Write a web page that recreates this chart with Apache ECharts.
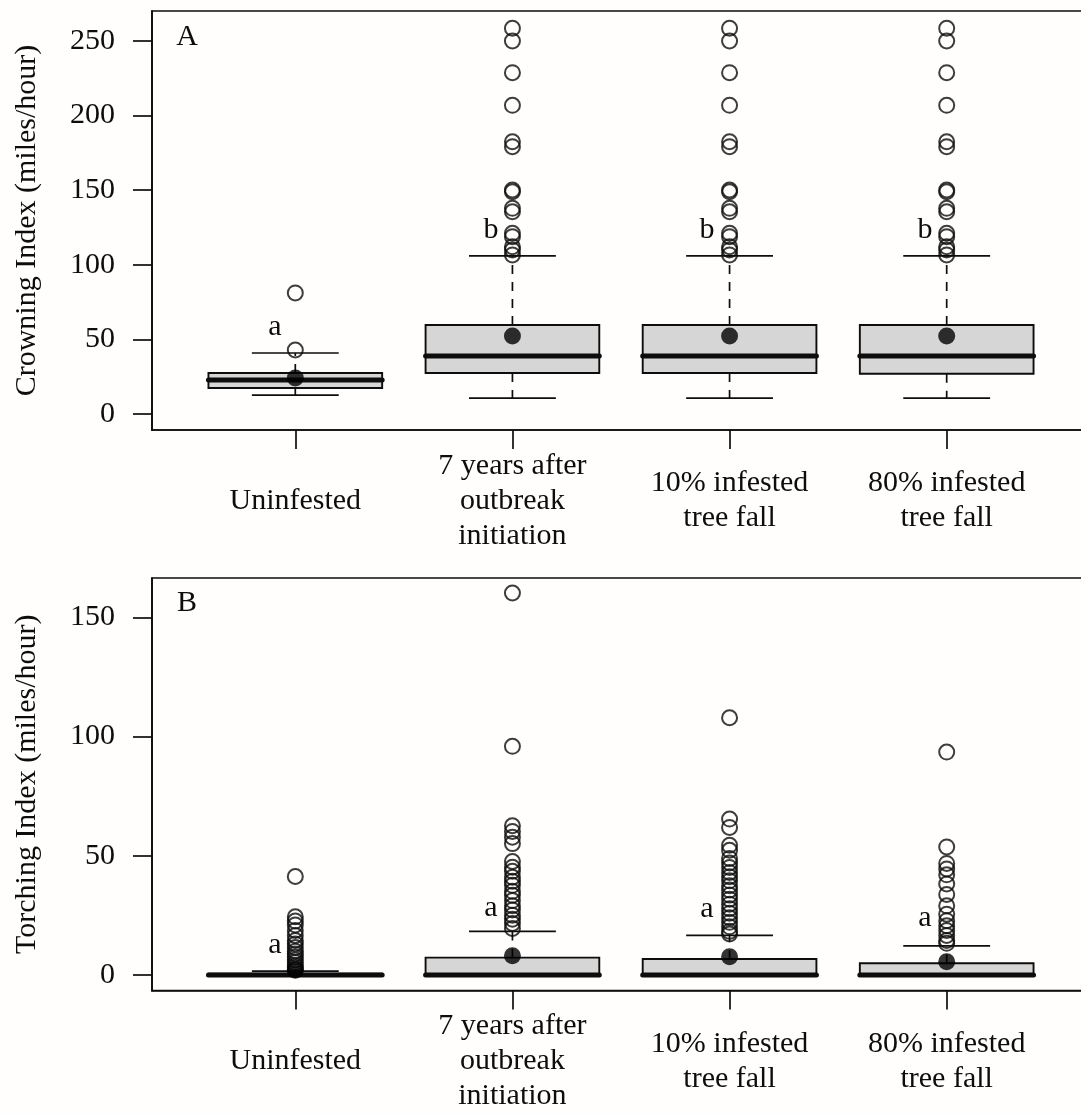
<!DOCTYPE html>
<html>
<head>
<meta charset="utf-8">
<script src="https://cdn.jsdelivr.net/npm/echarts@6/dist/echarts.min.js"></script>
<style>
html,body{margin:0;padding:0;overflow:hidden;background:#fffefd;}
#chart{width:1100px;height:1114px;}
</style>
</head>
<body>
<div id="chart"></div>
<script>
// ---------- data ----------
const categories = ['Uninfested', '7 years after\noutbreak\ninitiation', '10% infested\ntree fall', '80% infested\ntree fall'];
const catPositions = [1, 2, 3, 4];

const crownTicks = [0, 50, 100, 150, 200, 250];
const torchTicks = [0, 50, 100, 150];

// Panel A: Crowning Index
const crownLowWhisker  = [12.7, 10.7, 10.7, 10.7];
const crownQ1          = [17.4, 27.5, 27.5, 27.0];
const crownMedian      = [22.8, 38.9, 38.9, 38.9];
const crownQ3          = [27.5, 59.6, 59.6, 59.6];
const crownHighWhisker = [40.9, 105.9, 105.9, 105.9];
const crownMean        = [24.1, 52.3, 52.3, 52.3];
const crownOutliers1 = [42.9, 81.1];
const crownOutliers2 = [106.6, 109.9, 112.1, 118.8, 121.1, 135.5, 137.8, 148.9, 150.1, 179.1, 182.4, 206.8, 228.7, 249.9, 258.4];
const crownOutliers3 = [106.6, 109.9, 112.1, 118.8, 121.1, 135.5, 137.8, 148.9, 150.1, 179.1, 182.4, 206.8, 228.7, 249.9, 258.4];
const crownOutliers4 = [106.6, 109.9, 112.1, 118.8, 121.1, 135.5, 137.8, 148.9, 150.1, 179.1, 182.4, 206.8, 228.7, 249.9, 258.4];
const crownLetters = ['a', 'b', 'b', 'b'];
const crownLetterY = [58.3, 123.3, 123.3, 123.3];

// Panel B: Torching Index
const torchLowWhisker  = [0, 0, 0, 0];
const torchQ1          = [0, 0, 0, 0];
const torchMedian      = [0, 0, 0, 0];
const torchQ3          = [0.5, 7.3, 6.7, 4.9];
const torchHighWhisker = [1.6, 18.3, 16.6, 12.2];
const torchMean        = [2.0, 8.1, 7.7, 5.6];
const torchOutliers1 = [41.3, 24.4, 22.6, 21.0, 18.7, 16.6, 14.5, 13.0, 11.5, 10.0, 8.8, 7.5, 6.3, 5.2, 4.1, 3.2, 2.4];
const torchOutliers2 = [160.2, 95.9, 62.6, 60.2, 57.8, 55.1, 47.6, 45.2, 43.5, 41.0, 39.3, 37.6, 35.1, 33.4, 31.2, 29.0, 27.3, 25.1, 23.4, 21.6, 19.5];
const torchOutliers3 = [107.9, 65.4, 61.9, 54.4, 52.3, 48.9, 47.0, 45.1, 43.0, 41.2, 39.5, 37.4, 35.6, 33.5, 31.8, 29.7, 27.8, 25.9, 24.0, 22.1, 20.2, 18.3, 17.2];
const torchOutliers4 = [93.5, 53.7, 46.8, 44.5, 42.0, 38.2, 33.8, 29.0, 25.5, 22.8, 20.7, 18.7, 16.6, 14.5, 13.3];
const torchLetters = ['a', 'a', 'a', 'a'];
const torchLetterY = [12.4, 28.0, 27.7, 24.0];

const letterOffsets = [-0.094, -0.099, -0.104, -0.1];

// ---------- helpers ----------
const FONT = '"Liberation Serif", "Times New Roman", serif';
const INK = '#0d0d0d';

function boxRows(lo, q1, med, q3, hi) {
  return catPositions.map((x, i) => [x, lo[i], q1[i], med[i], q3[i], hi[i]]);
}
function outlierRows(lists) {
  const out = [];
  lists.forEach((l, i) => l.forEach(v => out.push([catPositions[i], v])));
  return out;
}
function pointRows(vals) { return catPositions.map((x, i) => [x, vals[i]]); }
function letterRows(letters, ys) {
  return catPositions.map((x, i) => [x + letterOffsets[i], ys[i], letters[i]]);
}

function renderBox(params, api) {
  const x = api.value(0);
  const lo = api.coord([x, api.value(1)]);
  const q1 = api.coord([x, api.value(2)]);
  const md = api.coord([x, api.value(3)]);
  const q3 = api.coord([x, api.value(4)]);
  const hi = api.coord([x, api.value(5)]);
  const xc = lo[0];
  const halfBox = api.size([0.4, 0])[0];
  const halfCap = api.size([0.2, 0])[0];
  const lineS = { stroke: INK, lineWidth: 1.7, lineDash: [9, 8] };
  const solid = { stroke: INK, lineWidth: 1.7 };
  return {
    type: 'group',
    children: [
      { type: 'line', shape: { x1: xc, y1: q3[1], x2: xc, y2: hi[1] }, style: lineS },
      { type: 'line', shape: { x1: xc, y1: q1[1], x2: xc, y2: lo[1] }, style: lineS },
      { type: 'line', shape: { x1: xc - halfCap, y1: hi[1], x2: xc + halfCap, y2: hi[1] }, style: solid },
      { type: 'line', shape: { x1: xc - halfCap, y1: lo[1], x2: xc + halfCap, y2: lo[1] }, style: solid },
      { type: 'rect', shape: { x: xc - halfBox, y: q3[1], width: halfBox * 2, height: q1[1] - q3[1] },
        style: { fill: '#d6d6d6', stroke: INK, lineWidth: 1.9 } },
      { type: 'line', shape: { x1: xc - halfBox, y1: md[1], x2: xc + halfBox, y2: md[1] },
        style: { stroke: INK, lineWidth: 5, lineCap: 'round' } }
    ]
  };
}
function renderLetter(params, api) {
  const p = api.coord([api.value(0), api.value(1)]);
  return {
    type: 'text', x: p[0], y: p[1],
    style: { text: api.value(2), font: '30px ' + FONT, fill: INK, align: 'center', verticalAlign: 'middle' }
  };
}

function xAxisCfg(gridIndex) {
  return {
    type: 'value', gridIndex, min: 0.34, max: 4.66,
    splitLine: { show: false },
    axisLine: { show: true, onZero: false, lineStyle: { color: INK, width: 1.7 } },
    axisTick: { show: true, customValues: catPositions, length: 19, lineStyle: { color: INK, width: 1.7 } },
    axisLabel: {
      customValues: catPositions,
      formatter: v => categories[Math.round(v) - 1],
      fontSize: 30, fontFamily: FONT, color: INK, lineHeight: 35,
      margin: 71, verticalAlign: 'middle'
    }
  };
}
function yAxisCfg(gridIndex, min, max, ticks, name) {
  return {
    type: 'value', gridIndex, min, max,
    name, nameLocation: 'middle', nameGap: 110,
    nameTextStyle: { fontSize: 30, fontFamily: FONT, color: INK },
    splitLine: { show: false },
    axisLine: { show: true, onZero: false, lineStyle: { color: INK, width: 1.7 } },
    axisTick: { show: true, customValues: ticks, length: 19, lineStyle: { color: INK, width: 1.7 } },
    axisLabel: { customValues: ticks, fontSize: 30, fontFamily: FONT, color: INK, margin: 37 }
  };
}

function panelSeries(idx, rows, outliers, means, letters) {
  return [
    { type: 'custom', xAxisIndex: idx, yAxisIndex: idx, renderItem: renderBox, data: rows, z: 2, silent: true },
    { type: 'scatter', xAxisIndex: idx, yAxisIndex: idx, data: outliers, symbol: 'circle', symbolSize: 15,
      itemStyle: { color: 'rgba(0,0,0,0)', borderColor: INK, borderWidth: 2 }, z: 3, silent: true },
    { type: 'scatter', xAxisIndex: idx, yAxisIndex: idx, data: means, symbol: 'circle', symbolSize: 17,
      itemStyle: { color: '#000' }, z: 4, silent: true },
    { type: 'custom', xAxisIndex: idx, yAxisIndex: idx, renderItem: renderLetter, data: letters, z: 5, silent: true }
  ];
}

const chart = echarts.init(document.getElementById('chart'), null, { renderer: 'canvas' });
chart.setOption({
  backgroundColor: '#fffefd',
  animation: false,
  grid: [
    { left: 152, top: 11, width: 938, height: 419, show: true, borderColor: INK, borderWidth: 1.7, backgroundColor: 'transparent' },
    { left: 152, top: 578, width: 938, height: 420, show: true, borderColor: INK, borderWidth: 1.7, backgroundColor: 'transparent' }
  ],
  xAxis: [xAxisCfg(0), xAxisCfg(1)],
  yAxis: [
    yAxisCfg(0, -10.7, 270, crownTicks, 'Crowning Index (miles/hour)'),
    yAxisCfg(1, -6.5, 166.5, torchTicks, 'Torching Index (miles/hour)')
  ],
  graphic: [
    { type: 'text', x: 187, y: 37, style: { text: 'A', font: '30px ' + FONT, fill: INK, align: 'center', verticalAlign: 'middle' } },
    { type: 'text', x: 187, y: 603, style: { text: 'B', font: '30px ' + FONT, fill: INK, align: 'center', verticalAlign: 'middle' } }
  ],
  series: [].concat(
    panelSeries(0,
      boxRows(crownLowWhisker, crownQ1, crownMedian, crownQ3, crownHighWhisker),
      outlierRows([crownOutliers1, crownOutliers2, crownOutliers3, crownOutliers4]),
      pointRows(crownMean),
      letterRows(crownLetters, crownLetterY)),
    panelSeries(1,
      boxRows(torchLowWhisker, torchQ1, torchMedian, torchQ3, torchHighWhisker),
      outlierRows([torchOutliers1, torchOutliers2, torchOutliers3, torchOutliers4]),
      pointRows(torchMean),
      letterRows(torchLetters, torchLetterY))
  )
});
</script>
</body>
</html>
